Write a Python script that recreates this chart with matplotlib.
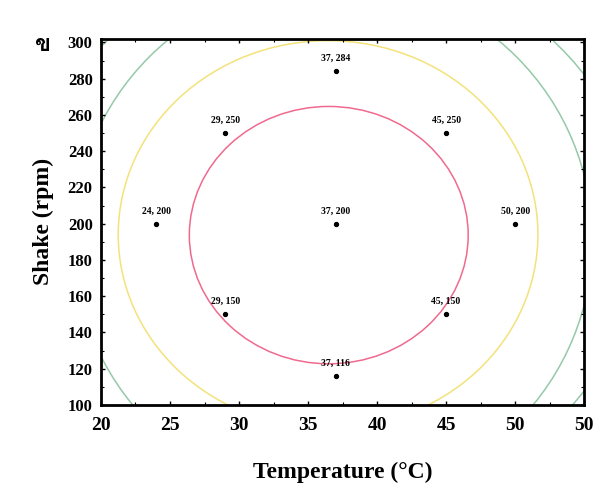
import matplotlib
matplotlib.use("Agg")
import matplotlib.pyplot as plt
from matplotlib.patches import Ellipse
from matplotlib import font_manager
from matplotlib.ticker import MultipleLocator

# design points (temperature, shake)
temp_pts = [37, 29, 45, 24, 37, 50, 29, 45, 37]
shake_pts = [284, 250, 250, 200, 200, 200, 150, 150, 116]

# contour levels of the response surface, drawn as ellipses
level_cx = [36.5, 36.45, 36.8, 36.6]
level_cy = [193.7, 194.0, 191.0, 195.0]
level_rx = [10.1, 15.2, 18.8, 22.4]
level_ry = [71.0, 107.0, 143.0, 153.0]
level_colors = ["#ef6a8e", "#f3e27a", "#95c9a8", "#95c9a8"]

x_ticks = [20, 25, 30, 35, 40, 45, 50, 55]
x_ticklabels = ["20", "25", "30", "35", "40", "45", "50", "50"]
y_ticks = [100, 120, 140, 160, 180, 200, 220, 240, 260, 280, 300]

PANEL = "ข"


def thai_family():
    # look for an installed font that has Thai glyphs
    try:
        from fontTools.ttLib import TTFont
    except ImportError:
        return None
    for f in font_manager.fontManager.ttflist:
        try:
            tt = TTFont(f.fname, fontNumber=0, lazy=True)
            cmap = tt.getBestCmap()
            if cmap and ord(PANEL) in cmap:
                return f.name
        except Exception:
            continue
    return None


serif = "Liberation Serif"

fig = plt.figure(figsize=(6.01, 4.92), dpi=100)
ax = fig.add_axes([0.168, 0.177, 0.804, 0.744])

for cx, cy, rx, ry, c in zip(level_cx, level_cy, level_rx, level_ry, level_colors):
    ax.add_patch(Ellipse((cx, cy), 2 * rx, 2 * ry, fill=False,
                         edgecolor=c, linewidth=1.1))

ax.scatter(temp_pts, shake_pts, s=8, color="black", zorder=3)
for t, s in zip(temp_pts, shake_pts):
    ax.annotate(f"{t}, {s}", (t, s), xytext=(0, 6), textcoords="offset points",
                ha="center", va="bottom", fontsize=7, fontweight="bold",
                family=serif)

ax.set_xlim(20, 55)
ax.set_ylim(100, 302)
ax.set_xticks(x_ticks)
ax.set_xticklabels(x_ticklabels)
ax.set_yticks(y_ticks)
ax.xaxis.set_minor_locator(MultipleLocator(2.5))
ax.yaxis.set_minor_locator(MultipleLocator(10))

ax.tick_params(which="both", direction="in", top=True, right=True)
ax.tick_params(which="major", length=3, width=1)
ax.tick_params(which="minor", length=2, width=0.8)
ax.tick_params(axis="x", labelsize=14, pad=9)
ax.tick_params(axis="y", labelsize=12, pad=6)
for lbl in ax.get_xticklabels() + ax.get_yticklabels():
    lbl.set_family(serif)
    lbl.set_fontweight("bold")

for sp in ax.spines.values():
    sp.set_linewidth(2)

ax.set_xlabel("Temperature (°C)", family=serif, fontweight="bold",
              fontsize=17, labelpad=20)
ax.set_ylabel("Shake (rpm)", family=serif, fontweight="bold",
              fontsize=17, labelpad=10)

fam = thai_family()
fig.text(0.072, 0.91, PANEL, fontsize=17, fontweight="bold",
         family=[fam, "DejaVu Sans"] if fam else ["DejaVu Sans"],
         ha="center", va="center")

fig.savefig("out.png", dpi=100)
